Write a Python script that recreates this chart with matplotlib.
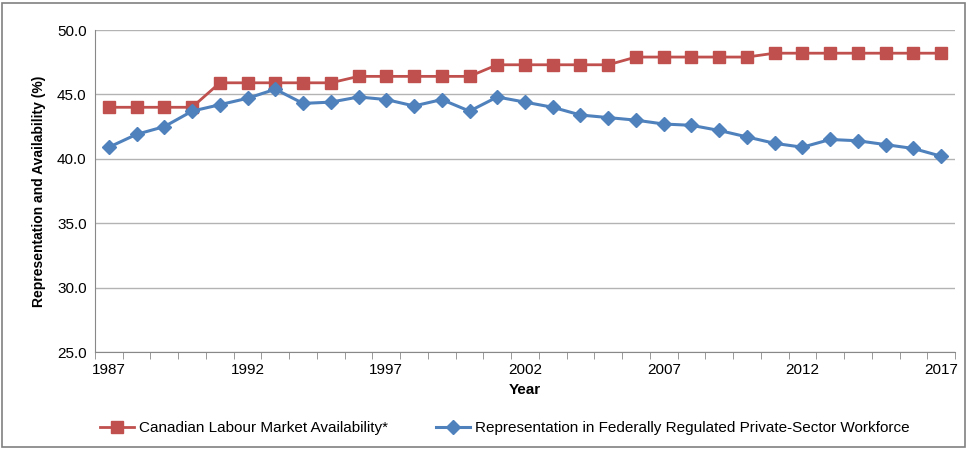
import numpy as np
import matplotlib.pyplot as plt
from matplotlib.patches import Rectangle

plt.rcParams['font.family'] = ['Liberation Sans Narrow', 'Liberation Sans', 'DejaVu Sans']

years = list(range(1987, 2018))
availability = [44.0, 44.0, 44.0, 44.0,
                45.9, 45.9, 45.9, 45.9, 45.9,
                46.4, 46.4, 46.4, 46.4, 46.4,
                47.3, 47.3, 47.3, 47.3, 47.3,
                47.9, 47.9, 47.9, 47.9, 47.9,
                48.2, 48.2, 48.2, 48.2, 48.2, 48.2, 48.2]
representation = [40.9, 41.9, 42.5, 43.7, 44.2, 44.7, 45.4, 44.3, 44.4, 44.8,
                  44.6, 44.1, 44.6, 43.7, 44.8, 44.4, 44.0, 43.4, 43.2, 43.0,
                  42.7, 42.6, 42.2, 41.7, 41.2, 40.9, 41.5, 41.4, 41.1, 40.8,
                  40.2]
tick_years = [1987, 1992, 1997, 2002, 2007, 2012, 2017]

fig = plt.figure(figsize=(9.69, 4.49), dpi=100)
ax = fig.add_axes([95/969, 1-352/449, 860/969, 322/449])

x = np.arange(len(years))
ax.plot(x, availability, color='#c0504d', lw=2, marker='s', ms=9,
        label='Canadian Labour Market Availability*')
ax.plot(x, representation, color='#4f81bd', lw=2.2, marker='D', ms=7,
        label='Representation in Federally Regulated Private-Sector Workforce')

ax.set_xlim(-0.5, len(years) - 0.5)
ax.set_ylim(25, 50)
ax.set_yticks(np.arange(25, 50.1, 5))
ax.set_yticklabels(['%.1f' % v for v in np.arange(25, 50.1, 5)], fontsize=11)
ax.yaxis.grid(True, color='#b3b3b3', lw=1)
ax.set_axisbelow(True)
ax.tick_params(axis='y', length=0, pad=6)

# category axis: labels at centres, tick marks between
ax.set_xticks([years.index(y) for y in tick_years])
ax.set_xticklabels([str(y) for y in tick_years], fontsize=11)
ax.tick_params(axis='x', length=0, pad=8)
ax.set_xticks(np.arange(-0.5, len(years), 1), minor=True)
ax.tick_params(axis='x', which='minor', length=5, color='#888888')

for s in ['top', 'right']:
    ax.spines[s].set_visible(False)
ax.spines['left'].set_color('#888888')
ax.spines['bottom'].set_color('#888888')

ax.set_xlabel('Year', fontsize=11, fontweight='bold', labelpad=4)
ax.set_ylabel('Representation and Availability (%)', fontsize=10, fontweight='bold', labelpad=8)

fig.legend(loc='center', bbox_to_anchor=(0.521, 1-428/449), ncol=2, frameon=False,
           fontsize=11, columnspacing=3.2, handlelength=2.2, handletextpad=0.3)

fig.patches.append(Rectangle((0.002, 0.004), 0.994, 0.99, transform=fig.transFigure,
                             fill=False, edgecolor='#808080', lw=1.2))

fig.savefig('out.png', dpi=100)
